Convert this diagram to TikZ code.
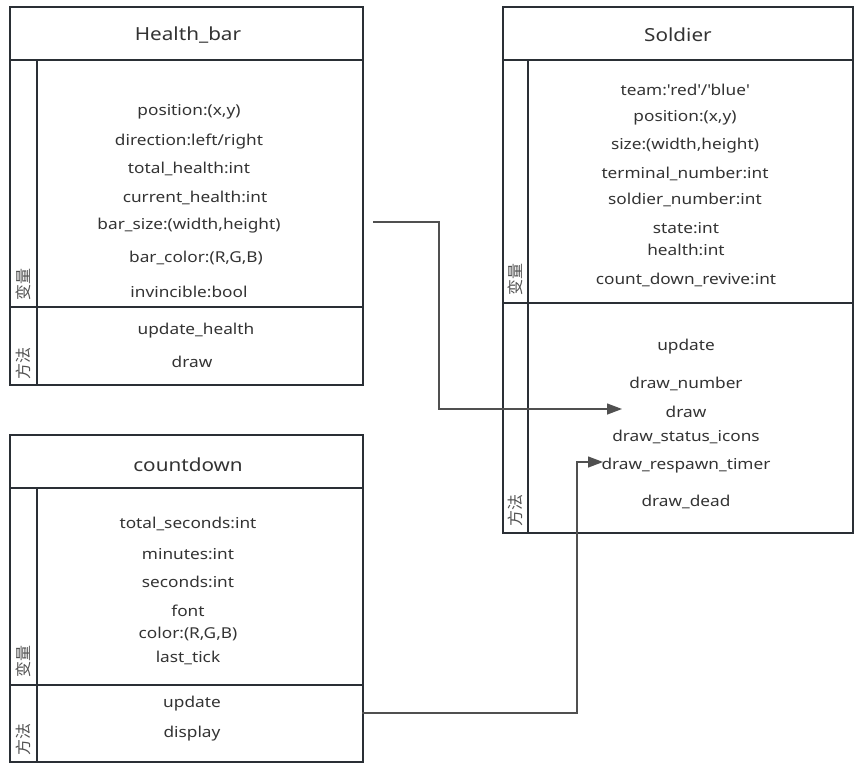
\documentclass[tikz,border=0pt]{standalone}
\usepackage{fontspec}
\setmainfont{Noto Sans}[FakeStretch=1.15]
\newfontfamily\cjkfont{Noto Sans CJK SC}
\usetikzlibrary{arrows.meta}
\definecolor{boxline}{HTML}{2A2F35}
\definecolor{ink}{HTML}{333333}
\definecolor{wireline}{HTML}{505050}
\tikzset{
  classbox/.style={draw=boxline,line width=1.7pt},
  classname/.style={font=\fontsize{18}{20}\selectfont,text=ink,inner sep=0pt,yshift=-2pt},
  member/.style={font=\fontsize{15}{17}\selectfont,text=ink,inner sep=0pt,yshift=-2pt},
  section/.style={font=\cjkfont\fontsize{16}{17}\selectfont,text=ink!85,rotate=90,anchor=west,inner sep=0pt},
  link/.style={draw=wireline,line width=1.3pt,-{Triangle[length=15pt,width=11pt]}}
}
\begin{document}
\begin{tikzpicture}[x=1pt,y=-1pt]
\useasboundingbox (0,0) rectangle (857,764);

% ---------- Health_bar ----------
\draw[classbox] (10,7) rectangle (363,385);
\draw[classbox] (10,60) -- (363,60);
\draw[classbox] (37,60) -- (37,385);
\draw[classbox] (10,307) -- (363,307);
\node[classname] (hbT) at (188,33) {Health\_bar};
\node[member] (hb1) at (189,110) {position:(x,y)};
\node[member] (hb2) at (189,140) {direction:left/right};
\node[member] (hb3) at (189,167) {total\_health:int};
\node[member] (hb4) at (195,196) {current\_health:int};
\node[member] (hb5) at (189,224) {bar\_size:(width,height)};
\node[member] (hb6) at (196,256) {bar\_color:(R,G,B)};
\node[member] (hb7) at (189,290) {invincible:bool};
\node[member] (hb8) at (196,329) {update\_health};
\node[member] (hb9) at (192,360) {draw};
\node[section] (hbV) at (23.5,301) {变量};
\node[section] (hbM) at (23.5,380) {方法};

% ---------- Soldier ----------
\draw[classbox] (503,7) rectangle (853,533);
\draw[classbox] (503,60) -- (853,60);
\draw[classbox] (528,60) -- (528,533);
\draw[classbox] (503,303) -- (853,303);
\node[classname] (sdT) at (678,33) {Soldier};
\node[member] (sd1) at (685,88) {team:\textquotesingle red\textquotesingle/\textquotesingle blue\textquotesingle};
\node[member] (sd2) at (685,116) {position:(x,y)};
\node[member] (sd3) at (685,144) {size:(width,height)};
\node[member] (sd4) at (685,172) {terminal\_number:int};
\node[member] (sd5) at (685,198) {soldier\_number:int};
\node[member] (sd6) at (686,226) {state:int};
\node[member] (sd7) at (686,248) {health:int};
\node[member] (sd8) at (686,278) {count\_down\_revive:int};
\node[member] (sd9) at (686,345) {update};
\node[member] (sd10) at (686,382) {draw\_number};
\node[member] (sd11) at (686,410) {draw};
\node[member] (sd12) at (686,435) {draw\_status\_icons};
\node[member] (sd13) at (686,464) {draw\_respawn\_timer};
\node[member] (sd14) at (686,500) {draw\_dead};
\node[section] (sdV) at (515.5,296) {变量};
\node[section] (sdM) at (515.5,527) {方法};

% ---------- countdown ----------
\draw[classbox] (10,435) rectangle (363,762);
\draw[classbox] (10,488) -- (363,488);
\draw[classbox] (37,488) -- (37,762);
\draw[classbox] (10,685) -- (363,685);
\node[classname] (cdT) at (188,463) {countdown};
\node[member] (cd1) at (188,522) {total\_seconds:int};
\node[member] (cd2) at (188,552) {minutes:int};
\node[member] (cd3) at (188,580) {seconds:int};
\node[member] (cd4) at (188,609) {font};
\node[member] (cd5) at (188,632) {color:(R,G,B)};
\node[member] (cd6) at (188,656) {last\_tick};
\node[member] (cd7) at (192,702) {update};
\node[member] (cd8) at (192,732) {display};
\node[section] (cdV) at (23.5,678) {变量};
\node[section] (cdM) at (23.5,756) {方法};

% ---------- connectors ----------
\coordinate (hbOut) at (373,222);
\coordinate (sdDraw) at (622,409);
\coordinate (cdOut) at (362,713);
\coordinate (sdTimer) at (603,462);
\draw[link] (hbOut) -- (439,222) -- (439,409) -- (sdDraw);
\draw[link] (cdOut) -- (577,713) -- (577,462) -- (sdTimer);
\end{tikzpicture}
\end{document}
